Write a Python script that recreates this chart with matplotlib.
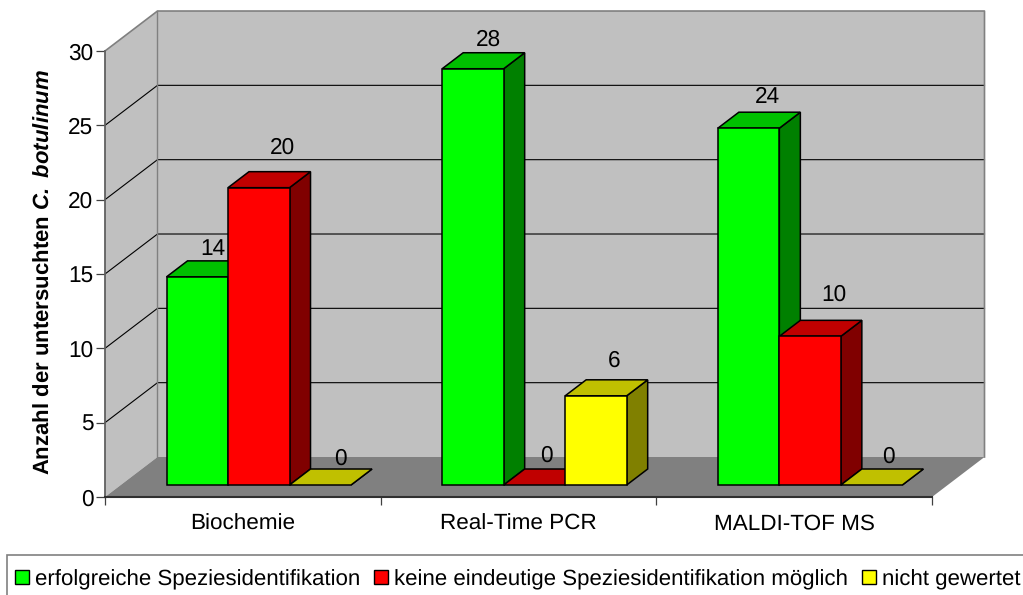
import matplotlib
matplotlib.use("Agg")
import matplotlib.pyplot as plt
from matplotlib.patches import Patch, Polygon, Rectangle

plt.rcParams['font.family'] = ['Liberation Sans', 'DejaVu Sans']
plt.rcParams['text.hinting'] = 'no_hinting'
plt.rcParams['mathtext.fontset'] = 'custom'
plt.rcParams['mathtext.bfit'] = 'Liberation Sans:italic:bold'
plt.rcParams['mathtext.rm'] = 'Liberation Sans'

categories = ['Biochemie', 'Real-Time PCR', 'MALDI-TOF MS']
series_names = ['erfolgreiche Speziesidentifikation',
                'keine eindeutige Speziesidentifikation möglich',
                'nicht gewertet']
erfolgreich = [14, 28, 24]
keine = [20, 0, 10]
nicht_gewertet = [0, 6, 0]
y_ticks = [0, 5, 10, 15, 20, 25, 30]

# front, top and side shade of each series
front_colors = ['#00ff00', '#ff0000', '#ffff00']
top_colors = ['#00c000', '#c00000', '#c0c000']
side_colors = ['#008000', '#800000', '#808000']

# label shift from the bar's front centre, in pixels
label_shift = [[(16, 28), (24, 40), (20, 26)],
               [(16, 29), (12, 29), (18, 35)],
               [(19, 31), (24, 42), (17, 28)]]

# oblique projection of the box: full depth in data units
DX = 52.5 / 275.67
DY = 40 / 14.87
BAR_W = 0.2231
BAR_START = 0.166
BAR_NEAR = 0.3
BAR_FAR = 0.7


def project(x, y, d):
    return (x + d * DX, y + d * DY)


def face(ax, pts, color, edge='none', lw=0.0, z=1):
    ax.add_patch(Polygon([project(*p) for p in pts], closed=True, facecolor=color,
                         edgecolor=edge, linewidth=lw, zorder=z, clip_on=False,
                         joinstyle='miter'))


def draw_box(ax):
    # side wall, back wall, floor
    face(ax, [(0, 0, 0), (0, 0, 1), (0, 30, 1), (0, 30, 0)], '#c0c0c0', z=1)
    face(ax, [(0, 0, 1), (3, 0, 1), (3, 30, 1), (0, 30, 1)], '#c0c0c0', z=1)
    face(ax, [(0, 0, 0), (3, 0, 0), (3, 0, 1), (0, 0, 1)], '#808080', z=1.5)
    for v in y_ticks[1:-1]:
        xs, ys = zip(project(0, v, 0), project(0, v, 1), project(3, v, 1))
        ax.plot(xs, ys, color='black', lw=0.8, zorder=2, clip_on=False)
    # grey outline of the walls
    xs, ys = zip(project(0, 30, 0), project(0, 30, 1), project(3, 30, 1), project(3, 0, 1))
    ax.plot(xs, ys, color='#808080', lw=1.2, zorder=2, clip_on=False)
    xs, ys = zip(project(0, 0, 1), project(0, 30, 1))
    ax.plot(xs, ys, color='#808080', lw=1.0, zorder=2, clip_on=False)


def draw_bar(ax, x, v, j):
    x0, x1 = x, x + BAR_W
    near, far = BAR_NEAR, BAR_FAR
    kw = dict(edge='black', lw=1.1, z=3 + j)
    face(ax, [(x1, 0, near), (x1, 0, far), (x1, v, far), (x1, v, near)], side_colors[j], **kw)
    face(ax, [(x0, v, near), (x1, v, near), (x1, v, far), (x0, v, far)], top_colors[j], **kw)
    if v > 0:
        face(ax, [(x0, 0, near), (x1, 0, near), (x1, v, near), (x0, v, near)], front_colors[j], **kw)


fig = plt.figure(figsize=(10.23, 5.95), dpi=100)
ax = fig.add_axes([105 / 1023, (595 - 497) / 595, 827 / 1023, 446 / 595])
ax.set_xlim(0, 3)
ax.set_ylim(0, 30)
ax.patch.set_visible(False)

draw_box(ax)

values = [erfolgreich, keine, nicht_gewertet]
for i in range(len(categories)):
    for j in range(3):
        v = values[j][i]
        x = i + BAR_START + j * BAR_W
        draw_bar(ax, x, v, j)
        cx, cy = project(x + BAR_W / 2, v, BAR_NEAR)
        ax.annotate(str(v), (cx, cy), xytext=label_shift[i][j], textcoords='offset pixels',
                    ha='center', va='center', fontsize=16.3, color='black', zorder=10,
                    annotation_clip=False)

for side in ['top', 'right']:
    ax.spines[side].set_visible(False)
ax.spines['left'].set_color('#606060')
ax.spines['left'].set_linewidth(1.3)
ax.spines['bottom'].set_color('#303030')
ax.spines['bottom'].set_linewidth(1.5)
ax.spines['left'].set_zorder(2.5)
ax.spines['bottom'].set_zorder(2.5)

ax.set_yticks(y_ticks)
ax.tick_params(axis='y', length=6.5, width=0.9, color='#404040', labelsize=16.3, pad=2)
ax.set_xticks([0, 1, 2, 3])
ax.set_xticklabels([])
ax.set_xticks([0.5, 1.5, 2.5], minor=True)
ax.set_xticklabels(categories, minor=True)
ax.tick_params(axis='x', which='major', length=6, width=0.9, color='#404040')
ax.tick_params(axis='x', which='minor', length=0, labelsize=16.2, pad=12)

fig.text(44 / 1023, 1 - 272 / 595, r'Anzahl der untersuchten $\mathbfit{C.\;botulinum}$',
         rotation=90, ha='center', va='center', fontsize=15.9, fontweight='bold')

# legend frame runs off the right and bottom of the canvas
fig.add_artist(Rectangle((7 / 1023, -20 / 595), 1040 / 1023, 60 / 595, transform=fig.transFigure,
                         facecolor='white', edgecolor='#808080', linewidth=1.2))

handles = [Patch(facecolor=c, edgecolor='black', linewidth=1.0) for c in front_colors]
leg = fig.legend(handles, series_names, loc='upper left', ncol=3,
                 bbox_to_anchor=(15 / 1023, 1 - 569 / 595), fontsize=16.05,
                 frameon=False, borderaxespad=0, borderpad=0,
                 handlelength=0.63, handleheight=0.63, handletextpad=0.27,
                 columnspacing=0.62)
leg.set_zorder(5)

fig.savefig('out.png', dpi=100)
